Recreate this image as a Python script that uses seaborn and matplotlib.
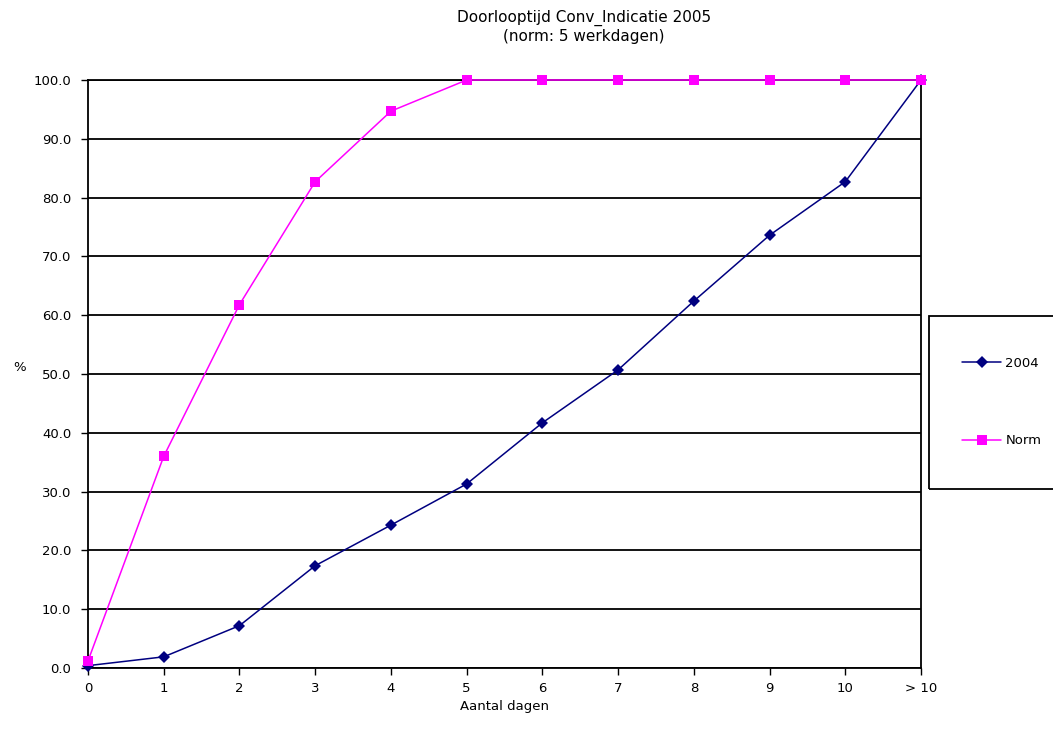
import numpy as np
import pandas as pd
import matplotlib
matplotlib.use("Agg")
import matplotlib.pyplot as plt
from matplotlib.patches import Rectangle
import seaborn as sns

# Cumulative percentage of cases completed per number of days
categories = ["0", "1", "2", "3", "4", "5", "6", "7", "8", "9", "10", "> 10"]
values_2004 = [0.4, 1.9, 7.2, 17.4, 24.3, 31.3, 41.7, 50.7, 62.4, 73.6, 82.7, 100.0]
values_norm = [1.2, 36.0, 61.8, 82.7, 94.7, 100.0, 100.0, 100.0, 100.0, 100.0, 100.0, 100.0]
series_names = ["2004", "Norm"]
series_colors = ["#000080", "#FF00FF"]

sns.set_theme(style="white")
plt.rcParams["font.family"] = ["DejaVu Sans"]
plt.rcParams["text.color"] = "black"
plt.rcParams["axes.labelcolor"] = "black"

pos = np.arange(len(categories))
df = pd.DataFrame({
    "pos": np.concatenate([pos, pos]),
    "pct": values_2004 + values_norm,
    "serie": [series_names[0]] * len(pos) + [series_names[1]] * len(pos),
})

fig = plt.figure(figsize=(10.53, 7.31), dpi=100)
ax = fig.add_axes([88 / 1053, 1 - 668 / 731, (921 - 88) / 1053, (668 - 80) / 731])

palette = dict(zip(series_names, series_colors))
markers = {"2004": "D", "Norm": "s"}
sns.lineplot(data=df, x="pos", y="pct", hue="serie", style="serie",
             palette=palette, markers=markers, dashes=False,
             markersize=7, linewidth=1.1, markeredgewidth=0,
             ax=ax, legend=True, zorder=3, clip_on=False)

for line in ax.get_lines():
    if line.get_marker() == "D":
        line.set_markersize(6)
    elif line.get_marker() == "s":
        line.set_markersize(7.5)

ax.set_xlim(0, len(categories) - 1)
ax.set_ylim(0, 100)
ax.set_yticks(np.arange(0, 101, 10))
ax.set_yticklabels([f"{v:.1f}" for v in np.arange(0, 101, 10)], fontsize=9.5)
ax.set_xticks(pos)
ax.set_xticklabels(categories, fontsize=9.5)
ax.yaxis.grid(True, color="black", linewidth=1.3)
ax.xaxis.grid(False)
ax.set_axisbelow(True)
for s in ax.spines.values():
    s.set_color("black")
    s.set_linewidth(1.3)
    s.set_visible(True)
ax.tick_params(axis="both", which="both", direction="out", length=5, width=1,
               color="black", labelcolor="black", bottom=True, left=True)
ax.tick_params(axis="y", pad=7)
ax.tick_params(axis="x", pad=5)

ax.set_xlabel("Aantal dagen", fontsize=9.5, labelpad=4)
ax.set_ylabel("%", fontsize=9.5, rotation=0, labelpad=0)
ax.yaxis.set_label_coords(-0.082, 0.5)

fig.text(584 / 1053, 1 - 27 / 731, "Doorlooptijd Conv_Indicatie 2005\n(norm: 5 werkdagen)",
         ha="center", va="center", fontsize=11, linespacing=1.25)

# legend frame on the right
fig.patches.append(Rectangle((929 / 1053, 1 - 489 / 731), 0.2, 173 / 731,
                             transform=fig.transFigure, fill=False,
                             edgecolor="black", linewidth=1.3))
handles, labels = ax.get_legend_handles_labels()
ax.legend(handles, labels, loc="center left",
          bbox_to_anchor=(950 / 1053, 1 - 402 / 731), bbox_transform=fig.transFigure,
          frameon=False, fontsize=9.5, labelspacing=4.9, handlelength=3.0,
          handletextpad=0.3)

fig.savefig("out.png", dpi=100)
